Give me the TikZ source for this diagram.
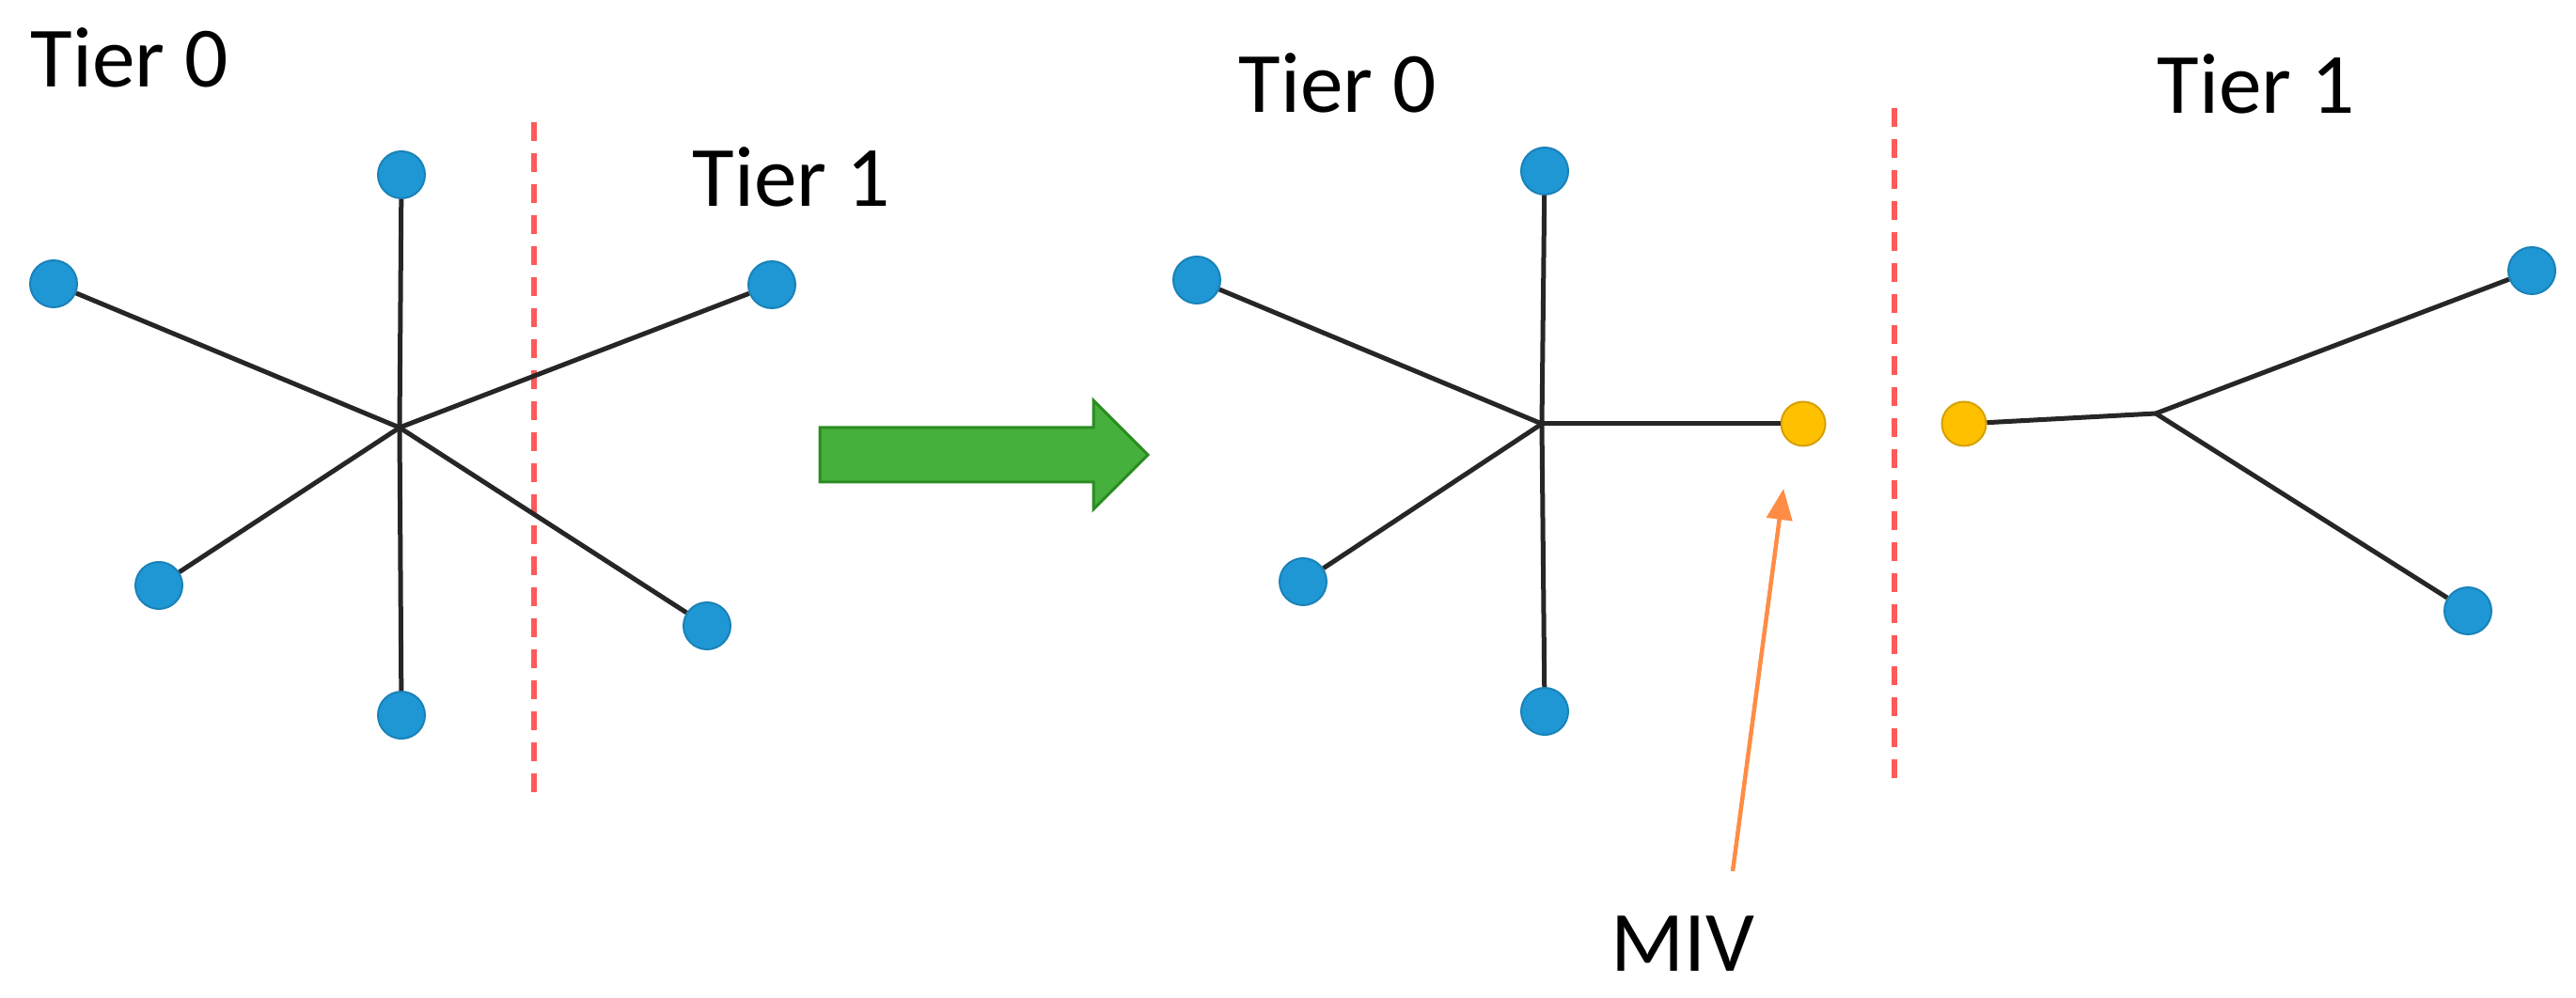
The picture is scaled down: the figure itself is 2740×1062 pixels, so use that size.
\documentclass[tikz,border=0pt]{standalone}
\usepackage{fontspec}
\setmainfont{Carlito}
\usetikzlibrary{arrows.meta}
\definecolor{nodeblue}{HTML}{1F97D4}
\definecolor{nodeblueb}{HTML}{1A82B8}
\definecolor{miv}{HTML}{FFC000}
\definecolor{mivb}{HTML}{D6A000}
\definecolor{cutred}{HTML}{FF5A5A}
\definecolor{arrgreen}{HTML}{46B03C}
\definecolor{arrgreenb}{HTML}{2A8C22}
\definecolor{arrorange}{HTML}{FF8C45}
\tikzset{
  pin/.style={circle,fill=nodeblue,draw=nodeblueb,line width=0.2mm,minimum size=5mm,inner sep=0pt},
  mivnode/.style={circle,fill=miv,draw=mivb,line width=0.2mm,minimum size=4.7mm,inner sep=0pt},
  wire/.style={line width=0.5mm,black!85},
  cutline/.style={cutred,line width=0.6mm,dash pattern=on 2mm off 1.3mm},
  label/.style={font=\fontsize{26}{30}\selectfont,inner sep=0pt,anchor=base west},
  bigarrow/.style={fill=arrgreen,draw=arrgreenb,line width=0.3mm,line join=miter},
  pointer/.style={arrorange,line width=0.45mm,-{Triangle[width=2.7mm,length=3.3mm]}}
}
\begin{document}
\begin{tikzpicture}[x=0.1mm,y=-0.1mm]
\useasboundingbox (0,0) rectangle (2740,1062);
% ---------- left panel ----------
\node[label] (t0a) at (32,93) {Tier 0};
\node[label] (t1a) at (736,220) {Tier 1};
\coordinate (hA) at (425,455);
\node[pin] (a1) at (427,186) {};
\node[pin] (a2) at (57,302) {};
\node[pin] (a3) at (821,303) {};
\node[pin] (a4) at (169,623) {};
\node[pin] (a5) at (752,666) {};
\node[pin] (a6) at (427,761) {};
\coordinate (cA1) at (568,130);
\coordinate (cA2) at (568,848);
\draw[cutline] (cA1) -- (cA2);
\foreach \n in {a1,a2,a3,a4,a5,a6} \draw[wire] (hA) -- (\n);
% ---------- green arrow ----------
\draw[bigarrow] (872,455) -- (1163,455) -- (1163,426) -- (1221,484) -- (1163,542) -- (1163,513) -- (872,513) -- cycle;
% ---------- right panel ----------
\node[label] (t0b) at (1317,120) {Tier 0};
\node[label] (t1b) at (2294,121) {Tier 1};
\coordinate (hB) at (1640,451);
\node[pin] (b1) at (1643,182) {};
\node[pin] (b2) at (1273,298) {};
\node[pin] (b4) at (1386,619) {};
\node[pin] (b6) at (1643,757) {};
\node[mivnode] (m1) at (1918,451) {};
\foreach \n in {b1,b2,b4,b6,m1} \draw[wire] (hB) -- (\n);
\coordinate (cB1) at (2015,115);
\coordinate (cB2) at (2015,833);
\draw[cutline] (cB1) -- (cB2);
\coordinate (hC) at (2293,440);
\node[mivnode] (m2) at (2089,451) {};
\node[pin] (c1) at (2693,288) {};
\node[pin] (c2) at (2625,650) {};
\foreach \n in {m2,c1,c2} \draw[wire] (hC) -- (\n);
% ---------- MIV label ----------
\node[label] (mivtxt) at (1713,1033) {MIV};
\coordinate (pt) at (1843,927);
\coordinate (ph) at (1897,520);
\draw[pointer] (pt) -- (ph);
\end{tikzpicture}
\end{document}
